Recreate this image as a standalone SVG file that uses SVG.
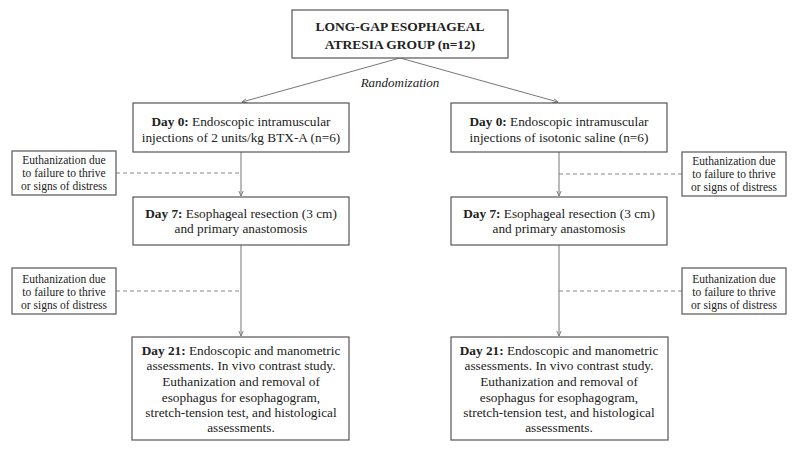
<svg xmlns="http://www.w3.org/2000/svg" width="800" height="451" viewBox="0 0 800 451">
<defs>
<style>
.box{fill:#fff;stroke:#555;stroke-width:1.2}
.t{fill:#222;text-anchor:middle}
.m{font-size:13.3px}
.s{font-size:11.5px}
.h{font-size:13.5px;font-weight:bold}
.b{font-weight:bold}
.ln{stroke:#777;stroke-width:1;fill:none}
.d{stroke:#888;stroke-width:1;stroke-dasharray:4 3;fill:none}
</style>
<marker id="ah" viewBox="0 0 8 8" refX="7" refY="4" markerWidth="6" markerHeight="6" orient="auto" markerUnits="userSpaceOnUse">
<path d="M0,1 L7,4 L0,7" fill="none" stroke="#777" stroke-width="1.2"/>
</marker>
</defs>
<rect width="800" height="451" fill="#fff"/>
<g font-family="Liberation Serif, Times New Roman, serif">
<g id="connectors">
<line class="ln" x1="400" y1="58" x2="242" y2="102" marker-end="url(#ah)"/>
<line class="ln" x1="400" y1="58" x2="558" y2="102" marker-end="url(#ah)"/>
<line class="ln" x1="241" y1="152" x2="241" y2="196" marker-end="url(#ah)"/>
<line class="ln" x1="559" y1="152" x2="559" y2="196" marker-end="url(#ah)"/>
<line class="ln" x1="241" y1="245" x2="241" y2="336" marker-end="url(#ah)"/>
<line class="ln" x1="559" y1="245" x2="559" y2="336" marker-end="url(#ah)"/>
<line class="d" x1="116" y1="173" x2="241" y2="173"/>
<line class="d" x1="559" y1="174" x2="682" y2="174"/>
<line class="d" x1="116" y1="291" x2="241" y2="291"/>
<line class="d" x1="559" y1="291" x2="682" y2="291"/>
<text class="t" x="400" y="87" font-size="13" font-style="italic">Randomization</text>
</g>
<g id="top">
<rect class="box" x="292" y="10" width="216" height="48"/>
<text class="t h" x="400" y="31">LONG-GAP ESOPHAGEAL</text>
<text class="t h" x="400" y="49">ATRESIA GROUP (n=12)</text>
</g>
<g id="day0-left">
<rect class="box" x="133" y="103" width="216" height="49"/>
<text class="t m" x="241" y="126"><tspan class="b">Day 0:</tspan> Endoscopic intramuscular</text>
<text class="t m" x="241" y="142">injections of 2 units/kg BTX-A (n=6)</text>
</g>
<g id="day0-right">
<rect class="box" x="451" y="103" width="216" height="49"/>
<text class="t m" x="559" y="126"><tspan class="b">Day 0:</tspan> Endoscopic intramuscular</text>
<text class="t m" x="559" y="142">injections of isotonic saline (n=6)</text>
</g>
<g id="euth-left-1">
<rect class="box" x="12" y="151" width="104" height="44"/>
<text class="t s" x="64" y="164">Euthanization due</text>
<text class="t s" x="64" y="177">to failure to thrive</text>
<text class="t s" x="64" y="190">or signs of distress</text>
</g>
<g id="euth-right-1">
<rect class="box" x="682" y="152" width="104" height="44"/>
<text class="t s" x="734" y="165">Euthanization due</text>
<text class="t s" x="734" y="178">to failure to thrive</text>
<text class="t s" x="734" y="191">or signs of distress</text>
</g>
<g id="day7-left">
<rect class="box" x="133" y="197" width="216" height="48"/>
<text class="t m" x="241" y="218"><tspan class="b">Day 7:</tspan> Esophageal resection (3 cm)</text>
<text class="t m" x="241" y="233">and primary anastomosis</text>
</g>
<g id="day7-right">
<rect class="box" x="451" y="197" width="216" height="48"/>
<text class="t m" x="559" y="218"><tspan class="b">Day 7:</tspan> Esophageal resection (3 cm)</text>
<text class="t m" x="559" y="233">and primary anastomosis</text>
</g>
<g id="euth-left-2">
<rect class="box" x="12" y="268" width="104" height="46"/>
<text class="t s" x="64" y="283">Euthanization due</text>
<text class="t s" x="64" y="296">to failure to thrive</text>
<text class="t s" x="64" y="309">or signs of distress</text>
</g>
<g id="euth-right-2">
<rect class="box" x="682" y="268" width="104" height="46"/>
<text class="t s" x="734" y="283">Euthanization due</text>
<text class="t s" x="734" y="296">to failure to thrive</text>
<text class="t s" x="734" y="309">or signs of distress</text>
</g>
<g id="day21-left">
<rect class="box" x="132" y="337" width="217" height="103"/>
<text class="t m" x="241" y="355"><tspan class="b">Day 21:</tspan> Endoscopic and manometric</text>
<text class="t m" x="241" y="370">assessments. In vivo contrast study.</text>
<text class="t m" x="241" y="386">Euthanization and removal of</text>
<text class="t m" x="241" y="402">esophagus for esophagogram,</text>
<text class="t m" x="241" y="417">stretch-tension test, and histological</text>
<text class="t m" x="241" y="432">assessments.</text>
</g>
<g id="day21-right">
<rect class="box" x="451" y="337" width="217" height="103"/>
<text class="t m" x="559" y="355"><tspan class="b">Day 21:</tspan> Endoscopic and manometric</text>
<text class="t m" x="559" y="370">assessments. In vivo contrast study.</text>
<text class="t m" x="559" y="386">Euthanization and removal of</text>
<text class="t m" x="559" y="402">esophagus for esophagogram,</text>
<text class="t m" x="559" y="417">stretch-tension test, and histological</text>
<text class="t m" x="559" y="432">assessments.</text>
</g>
</g>
</svg>
